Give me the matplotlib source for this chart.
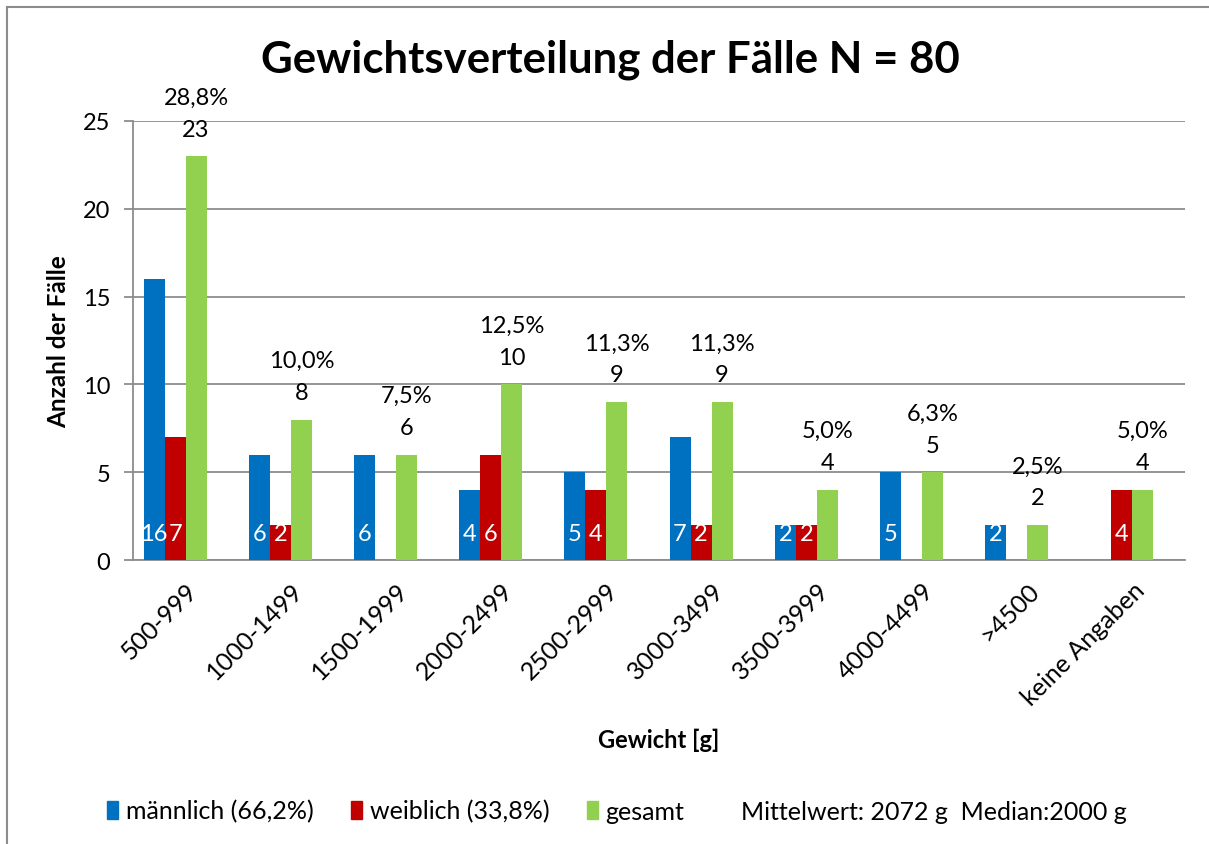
import matplotlib
matplotlib.use("Agg")
import matplotlib.pyplot as plt
from matplotlib.patches import Patch
from matplotlib.lines import Line2D
import numpy as np

plt.rcParams['font.family'] = ['Lato', 'DejaVu Sans']

# data
categories = ["500-999", "1000-1499", "1500-1999", "2000-2499", "2500-2999",
              "3000-3499", "3500-3999", "4000-4499", ">4500", "keine Angaben"]
maennlich = [16, 6, 6, 4, 5, 7, 2, 5, 2, 0]
weiblich = [7, 2, 0, 6, 4, 2, 2, 0, 0, 4]
gesamt = [23, 8, 6, 10, 9, 9, 4, 5, 2, 4]
anteil = ["28,8%", "10,0%", "7,5%", "12,5%", "11,3%", "11,3%", "5,0%", "6,3%", "2,5%", "5,0%"]

legend_labels = ["männlich (66,2%)", "weiblich (33,8%)", "gesamt",
                 "Mittelwert: 2072 g  Median:2000 g"]

c_blue = "#0070C0"
c_red = "#C00000"
c_green = "#92D050"
grid_c = "#8c8c8c"

fig = plt.figure(figsize=(12.09, 8.45), dpi=100)
ax = fig.add_axes([133 / 1209, 1 - 561 / 845, (1185 - 133) / 1209, (561 - 122) / 845])

x = np.arange(len(categories)) + 0.5
w = 0.2
ax.bar(x - 0.3, maennlich, w, color=c_blue, zorder=3)
ax.bar(x - 0.1, weiblich, w, color=c_red, zorder=3)
ax.bar(x + 0.1, gesamt, w, color=c_green, zorder=3)

# white labels near the base of the male / female bars
for xs, vals in [(x - 0.3, maennlich), (x - 0.1, weiblich)]:
    for xi, v in zip(xs, vals):
        if v > 0:
            ax.annotate(str(v), (xi, 0), xytext=(0, 19), textcoords="offset points",
                        ha="center", va="center", color="white", fontsize=17, zorder=4)

# count + share above the total bars
for xi, v, p in zip(x + 0.1, gesamt, anteil):
    ax.annotate(str(v), (xi, v), xytext=(0, 19.5), textcoords="offset points",
                ha="center", va="center", fontsize=17, annotation_clip=False)
    ax.annotate(p, (xi, v), xytext=(0, 42.5), textcoords="offset points",
                ha="center", va="center", fontsize=17, annotation_clip=False)

ax.set_xlim(0, len(categories))
ax.set_ylim(0, 25)
ax.set_yticks([0, 5, 10, 15, 20, 25])
ax.yaxis.grid(True, color=grid_c, lw=1.3, zorder=0)
ax.set_axisbelow(True)

for s in ["top", "right"]:
    ax.spines[s].set_visible(False)
for s in ["left", "bottom"]:
    ax.spines[s].set_color(grid_c)
    ax.spines[s].set_linewidth(1.3)

ax.tick_params(axis="y", length=6.5, width=1.3, color=grid_c, pad=10, labelsize=17)
ax.set_xticks(x)
ax.set_xticklabels(categories, rotation=45, ha="right", va="top",
                   rotation_mode="anchor", fontsize=18)
ax.tick_params(axis="x", length=0, pad=13)

ax.set_ylabel("Anzahl der Fälle", fontsize=17.5, fontweight="bold", labelpad=9)
ax.set_xlabel("Gewicht [g]", fontsize=17, fontweight="bold", labelpad=13)

fig.text(0.505, 1 - 60 / 845, "Gewichtsverteilung der Fälle N = 80",
         ha="center", va="center", fontsize=31.5, fontweight="bold")

handles = [Patch(color=c_blue), Patch(color=c_red), Patch(color=c_green),
           Patch(color="none")]
fig.legend(handles, legend_labels, loc="center", bbox_to_anchor=(0.51, 1 - 812 / 845),
           ncol=4, frameon=False, fontsize=18, handlelength=0.45, handleheight=0.75,
           handletextpad=0.3, columnspacing=1.5)

# outer chart frame
fig.add_artist(Line2D([7 / 1209, 1], [1 - 8 / 845, 1 - 8 / 845], color=grid_c, lw=1.5))
fig.add_artist(Line2D([7 / 1209, 7 / 1209], [0, 1 - 8 / 845], color=grid_c, lw=1.5))

fig.savefig("out.png", dpi=100)
